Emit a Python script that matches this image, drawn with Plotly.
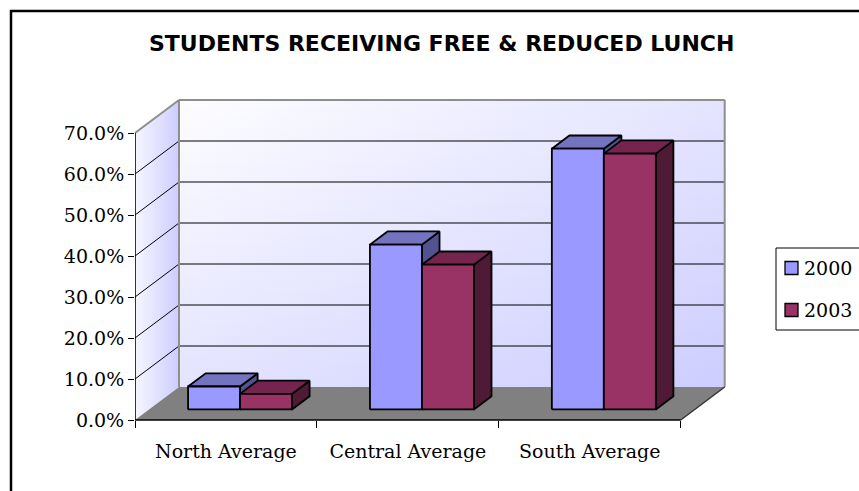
import plotly.graph_objects as go

# ---- data -------------------------------------------------------------
categories = ["North Average", "Central Average", "South Average"]
series_names = ["2000", "2003"]
values_2000 = [5.6, 40.2, 63.6]
values_2003 = [3.8, 35.3, 62.4]
y_ticks = [0, 10, 20, 30, 40, 50, 60, 70]
y_tick_labels = [f"{v:.1f}%" for v in y_ticks]

# ---- styling ----------------------------------------------------------
front_colors = ["#9999FF", "#993366"]
top_colors = ["#7373C0", "#74244E"]
side_colors = ["#52528E", "#4E1A35"]
FLOOR = "#808080"
WALL_EDGE = "#8E8E8E"
SERIF = "DejaVu Serif"

W, H = 859, 491
ORIGIN_PX = (135, 420)          # pixel of (category 0, value 0) on the front plane
PX_PER_CAT = 181.9
PX_PER_PCT = 4.1
DEPTH_PX = (44, 33)             # oblique offset of the back plane (right, up)
DX = DEPTH_PX[0] / PX_PER_CAT   # depth offset in category units
DY = DEPTH_PX[1] / PX_PER_PCT   # depth offset in percent units
Y_MAX = 70
N = len(categories)

BAR_W = 1 / (2 + 1.5)           # gap width 150 %
BAR_GAP = 0.75 * BAR_W
D_FRONT, D_BACK = 0.32, 0.72    # bar depth inside the floor


def proj(x, y, d):
    """Oblique projection of (category, value, depth) onto the 2-D axes."""
    return x + d * DX, y + d * DY


def polys(quads):
    xs, ys = [], []
    for q in quads:
        pts = [proj(*p) for p in q]
        pts.append(pts[0])
        xs += [p[0] for p in pts] + [None]
        ys += [p[1] for p in pts] + [None]
    return xs, ys


def segs(pairs):
    xs, ys = [], []
    for a, b in pairs:
        pa, pb = proj(*a), proj(*b)
        xs += [pa[0], pb[0], None]
        ys += [pa[1], pb[1], None]
    return xs, ys


fig = go.Figure()


def add_poly(quads, fill, line_color="rgba(0,0,0,0)", width=0, **kw):
    xs, ys = polys(quads)
    fig.add_trace(go.Scatter(x=xs, y=ys, mode="lines", fill="toself",
                             fillcolor=fill, line=dict(color=line_color, width=width),
                             hoverinfo="skip", showlegend=False, **kw))


def add_lines(pairs, color, width):
    xs, ys = segs(pairs)
    fig.add_trace(go.Scatter(x=xs, y=ys, mode="lines",
                             line=dict(color=color, width=width),
                             hoverinfo="skip", showlegend=False))


# side wall
side_wall = [[(0, 0, 0), (0, Y_MAX, 0), (0, Y_MAX, 1), (0, 0, 1)]]
add_poly(side_wall, "#E6E6FF",
         fillgradient=dict(type="horizontal",
                           colorscale=[[0, "#F6F6FF"], [1, "#CDCDFF"]]))

# back wall, shaded diagonally (horizontal ramp + vertical tint)
back_wall = [[(0, 0, 1), (N, 0, 1), (N, Y_MAX, 1), (0, Y_MAX, 1)]]
add_poly(back_wall, "#EEEEFF",
         fillgradient=dict(type="horizontal",
                           colorscale=[[0, "#FDFDFF"], [1, "#E4E4FF"]]))
add_poly(back_wall, "rgba(0,0,255,0.04)",
         fillgradient=dict(type="vertical",
                           colorscale=[[0, "rgba(0,0,255,0.10)"],
                                       [1, "rgba(0,0,255,0)"]]))

# floor
add_poly([[(0, 0, 0), (N, 0, 0), (N, 0, 1), (0, 0, 1)]], FLOOR)

# gridlines
grid = [((0, v, 1), (N, v, 1)) for v in y_ticks[1:-1]]
grid += [((0, v, 0), (0, v, 1)) for v in y_ticks[1:-1]]
add_lines(grid, "#000000", 1)

# wall edges
edges = [((0, Y_MAX, 0), (0, Y_MAX, 1)), ((0, Y_MAX, 1), (N, Y_MAX, 1)),
         ((0, 0, 1), (0, Y_MAX, 1)), ((N, 0, 1), (N, Y_MAX, 1))]
add_lines(edges, WALL_EDGE, 2)
add_lines([((N, 0, 0), (N, 0, 1))], "#333333", 1.5)

# front axes lines
add_lines([((0, 0, 0), (0, Y_MAX, 0)), ((0, 0, 0), (N, 0, 0))], "#000000", 1.6)

# bars, left series first so the right one covers its side face
for s, vals in enumerate([values_2000, values_2003]):
    side, top, front = [], [], []
    for c, v in enumerate(vals):
        x0 = c + BAR_GAP + s * BAR_W
        x1 = x0 + BAR_W
        front.append([(x0, 0, D_FRONT), (x1, 0, D_FRONT), (x1, v, D_FRONT), (x0, v, D_FRONT)])
        top.append([(x0, v, D_FRONT), (x1, v, D_FRONT), (x1, v, D_BACK), (x0, v, D_BACK)])
        side.append([(x1, 0, D_FRONT), (x1, 0, D_BACK), (x1, v, D_BACK), (x1, v, D_FRONT)])
    add_poly(side, side_colors[s], "#000000", 1.8)
    add_poly(top, top_colors[s], "#000000", 1.8)
    add_poly(front, front_colors[s], "#000000", 1.8)

# carrier for the category-boundary ticks
fig.add_trace(go.Scatter(x=[None], y=[None], xaxis="x2", showlegend=False,
                         hoverinfo="skip"))

x_dom = [ORIGIN_PX[0] / W, 1]
x_rng = [0, (W - ORIGIN_PX[0]) / PX_PER_CAT]
axis_pos = (H - ORIGIN_PX[1]) / H

# legend box (running off the right edge of the chart area)
LEG_LEFT, LEG_TOP, LEG_BOTTOM = 776, 248, 330
LEG_ROWS = [268, 310]
SW = 13
shapes = [dict(type="rect", xref="paper", yref="paper",
               x0=LEG_LEFT / W, x1=1.1, y0=1 - LEG_BOTTOM / H, y1=1 - LEG_TOP / H,
               line=dict(color="#000000", width=1), fillcolor="white")]
annotations = []
for s, name in enumerate(series_names):
    yc = LEG_ROWS[s]
    shapes.append(dict(type="rect", xref="paper", yref="paper",
                       x0=785 / W, x1=(785 + SW) / W,
                       y0=1 - (yc + SW / 2) / H, y1=1 - (yc - SW / 2) / H,
                       line=dict(color="#000000", width=1.3),
                       fillcolor=front_colors[s]))
    annotations.append(dict(text=name, xref="paper", yref="paper",
                            x=802 / W, y=1 - yc / H, xanchor="left",
                            yanchor="middle", showarrow=False,
                            font=dict(family=SERIF, size=19, color="#000000")))

annotations.append(dict(text="<b>STUDENTS RECEIVING FREE &amp; REDUCED LUNCH</b>",
                        xref="paper", yref="paper", x=441 / W, y=1 - 44 / H,
                        xanchor="center", yanchor="middle", showarrow=False,
                        font=dict(family="DejaVu Sans", size=22, color="#000000")))

# outer chart frame
shapes.append(dict(type="rect", xref="paper", yref="paper",
                   x0=11 / W, x1=1.2, y0=-0.2, y1=1 - 11 / H,
                   line=dict(color="#000000", width=2.5), layer="above"))

fig.update_layout(
    width=W, height=H, autosize=False,
    margin=dict(l=0, r=0, t=0, b=0, autoexpand=False),
    paper_bgcolor="white", plot_bgcolor="rgba(0,0,0,0)",
    showlegend=False,
    xaxis=dict(domain=x_dom, range=x_rng, anchor="free", position=axis_pos,
               tickvals=[c + 0.5 for c in range(N)], ticktext=categories,
               ticks="", showline=False, showgrid=False, zeroline=False,
               ticklabelstandoff=18,
               tickfont=dict(family=SERIF, size=19, color="#000000"),
               fixedrange=True),
    xaxis2=dict(domain=x_dom, range=x_rng, overlaying="x", anchor="free",
                position=axis_pos, tickvals=list(range(N + 1)),
                ticks="outside", ticklen=7, tickwidth=1.4, tickcolor="#000000",
                showticklabels=False, showline=False, showgrid=False,
                zeroline=False, fixedrange=True),
    yaxis=dict(domain=[0, 1], range=[-(H - ORIGIN_PX[1]) / PX_PER_PCT,
                                     ORIGIN_PX[1] / PX_PER_PCT],
               tickvals=y_ticks, ticktext=y_tick_labels,
               ticks="outside", ticklen=6, tickwidth=1.4, tickcolor="#000000",
               showline=False, showgrid=False, zeroline=False,
               tickfont=dict(family=SERIF, size=19, color="#000000"),
               fixedrange=True),
    annotations=annotations,
    shapes=shapes,
)

fig.write_html("out.html")
